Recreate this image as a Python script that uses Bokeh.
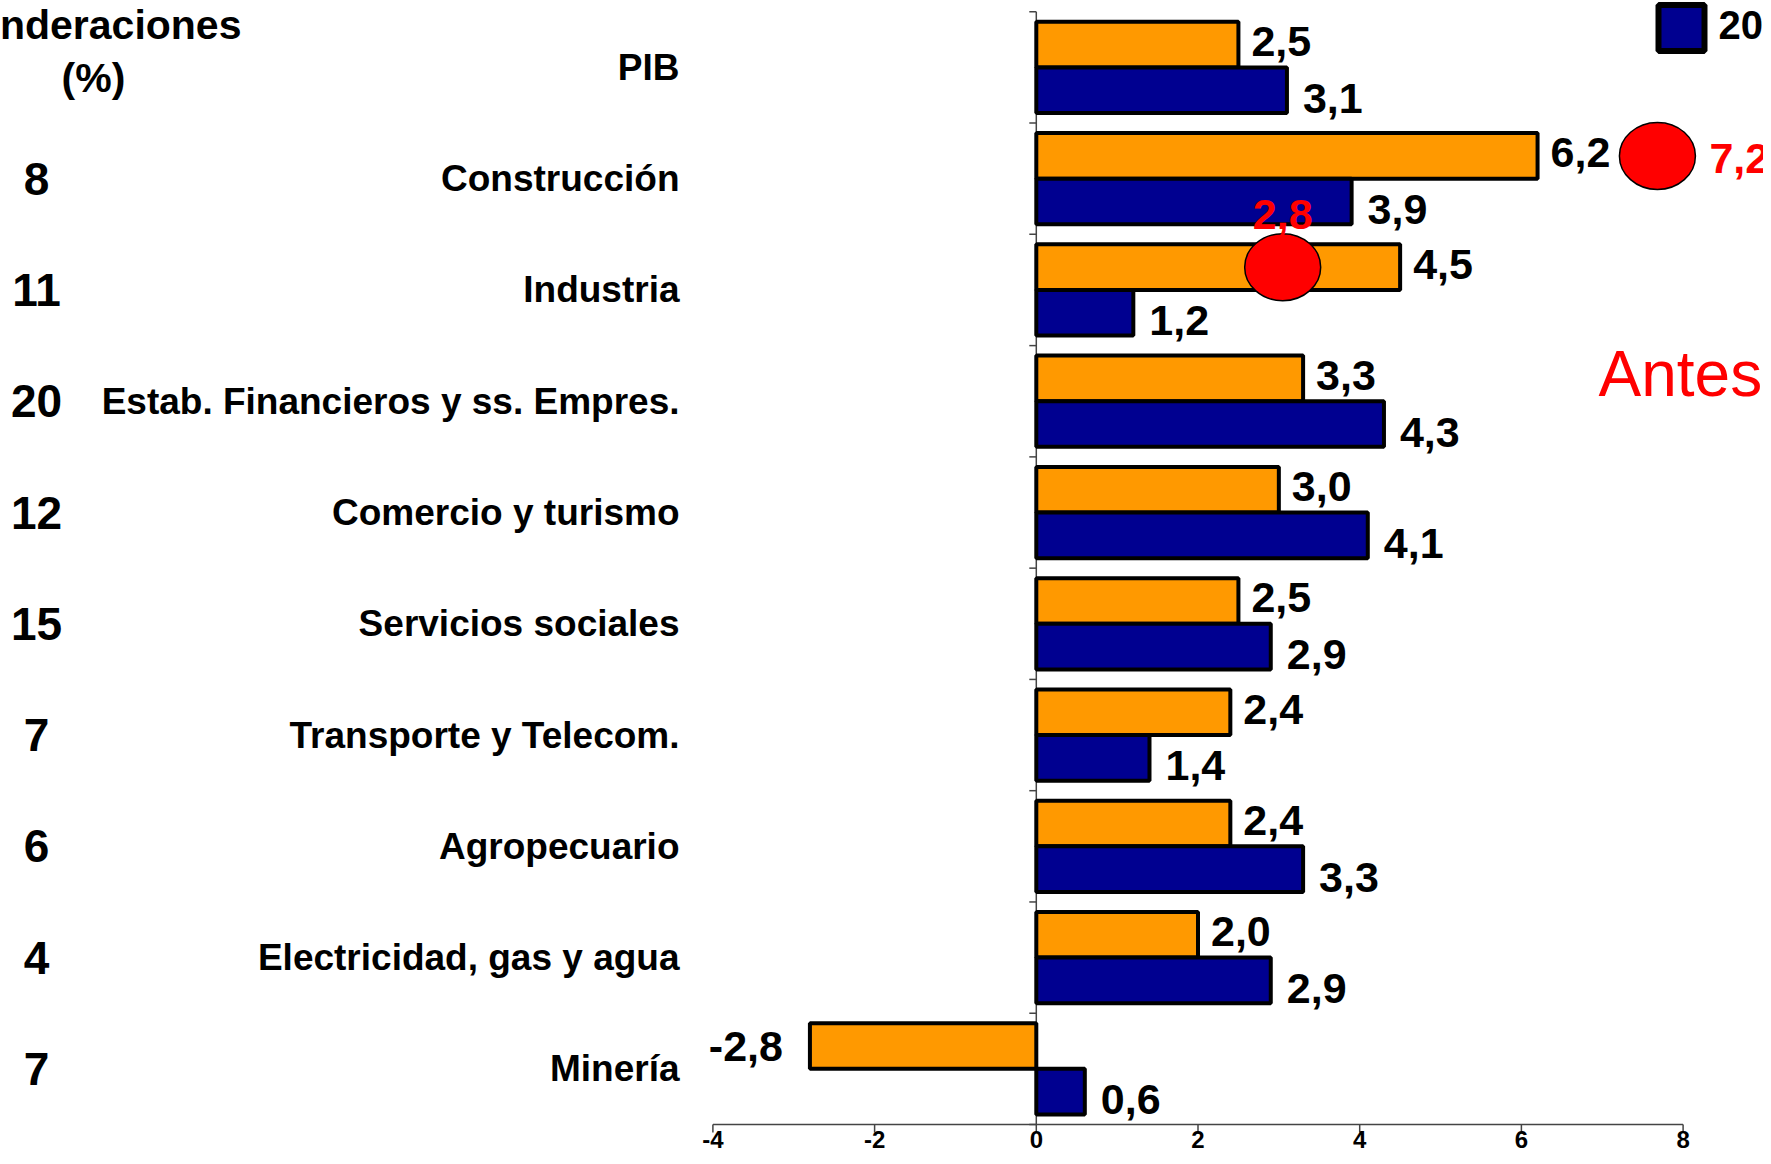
from bokeh.plotting import figure
from bokeh.models import Range1d
from bokeh.core.properties import value
from bokeh.embed import file_html
from bokeh.resources import INLINE

# ---------------- data ----------------
categories = ["PIB", "Construcción", "Industria", "Estab. Financieros y ss. Empres.",
              "Comercio y turismo", "Servicios sociales", "Transporte y Telecom.",
              "Agropecuario", "Electricidad, gas y agua", "Minería"]
ponderaciones = ["", "8", "11", "20", "12", "15", "7", "6", "4", "7"]
serie_naranja = [2.5, 6.2, 4.5, 3.3, 3.0, 2.5, 2.4, 2.4, 2.0, -2.8]
serie_azul = [3.1, 3.9, 1.2, 4.3, 4.1, 2.9, 1.4, 3.3, 2.9, 0.6]
antes_categorias = ["Construcción", "Industria"]
antes_valores = [7.2, 2.8]
x_ticks = [-4, -2, 0, 2, 4, 6, 8]
leyenda_azul = "2011"
titulo_pond = ["Ponderaciones", "(%)"]
texto_antes = "Antes"

# ---------------- layout helpers (canvas pixel -> data) ----------------
W, H = 1763, 1156
PX_X = 80.85      # px per x unit
X0 = 1035.8       # canvas x of value 0
PX_Y = 111.27     # px per category band
Y0 = 11.3         # canvas y of top of first band


def dx(sx):
    return (sx - X0) / PX_X


def dy(sy):
    return -(sy - Y0) / PX_Y


ORANGE = "#FF9900"
NAVY = "#000090"
FONT = value("Liberation Sans")
AXIS_COLOR = "#444444"

n = len(categories)
centers = [-(i + 0.5) for i in range(n)]
bar_h = 0.41
y_or = [c + bar_h / 2 for c in centers]
y_az = [c - bar_h / 2 for c in centers]

p = figure(width=W, height=H, output_backend="svg", toolbar_location=None,
           x_range=Range1d(dx(0), dx(W)), y_range=Range1d(dy(H), dy(0)),
           x_axis_location=None, y_axis_location=None,
           min_border_left=0, min_border_right=0, min_border_top=0,
           min_border_bottom=0)
p.outline_line_color = None
p.xgrid.visible = False
p.ygrid.visible = False
p.background_fill_color = "white"

# y axis line at x = 0 with category ticks
p.segment(x0=[0], y0=[0], x1=[0], y1=[-n], line_color=AXIS_COLOR, line_width=1.5)
bounds = [-k for k in range(n + 1)]
p.segment(x0=[0] * (n + 1), y0=bounds, x1=[-7 / PX_X] * (n + 1), y1=bounds,
          line_color=AXIS_COLOR, line_width=1.5)

# x axis (drawn on the data scale)
p.segment(x0=[x_ticks[0]], y0=[-n], x1=[x_ticks[-1]], y1=[-n],
          line_color=AXIS_COLOR, line_width=1.5)
p.segment(x0=x_ticks, y0=[-n] * len(x_ticks), x1=x_ticks,
          y1=[-n - 8 / PX_Y] * len(x_ticks), line_color=AXIS_COLOR, line_width=1.5)
p.text(x=x_ticks, y=[-n] * len(x_ticks), text=[str(t) for t in x_ticks],
       y_offset=6, text_align="center", text_baseline="top",
       text_font=FONT, text_font_style="bold", text_font_size="24px",
       text_color="black")

# bars
p.hbar(y=y_or, left=0, right=serie_naranja, height=bar_h, fill_color=ORANGE,
       line_color="black", line_width=4)
p.hbar(y=y_az, left=0, right=serie_azul, height=bar_h, fill_color=NAVY,
       line_color="black", line_width=4)


def fmt(v):
    return f"{v:.1f}".replace(".", ",")


# value labels
pos_o = [i for i, v in enumerate(serie_naranja) if v >= 0]
neg_o = [i for i, v in enumerate(serie_naranja) if v < 0]
p.text(x=[serie_naranja[i] for i in pos_o], y=[y_or[i] for i in pos_o],
       text=[fmt(serie_naranja[i]) for i in pos_o], x_offset=13, y_offset=-3,
       text_align="left", text_baseline="middle", text_font=FONT,
       text_font_style="bold", text_font_size="43px", text_color="black")
p.text(x=[serie_naranja[i] for i in neg_o], y=[y_or[i] for i in neg_o],
       text=[fmt(serie_naranja[i]) for i in neg_o], x_offset=-27, y_offset=0,
       text_align="right", text_baseline="middle", text_font=FONT,
       text_font_style="bold", text_font_size="43px", text_color="black")
p.text(x=serie_azul, y=y_az, text=[fmt(v) for v in serie_azul], x_offset=16,
       y_offset=8, text_align="left", text_baseline="middle", text_font=FONT,
       text_font_style="bold", text_font_size="43px", text_color="black")

# category names and weights
p.text(x=[dx(679)] * n, y=centers, text=categories, text_align="right",
       text_baseline="middle", text_font=FONT, text_font_style="bold",
       text_font_size="37px", text_color="black")
p.text(x=[dx(36)] * n, y=centers, text=ponderaciones, text_align="center",
       text_baseline="middle", text_font=FONT, text_font_style="bold",
       text_font_size="46px", text_color="black")
p.text(x=[dx(94), dx(93)], y=[dy(24), dy(77)], text=titulo_pond,
       text_align="center", text_baseline="middle", text_font=FONT,
       text_font_style="bold", text_font_size="41px", text_color="black")

# "Antes" annotations
idx = [categories.index(c) for c in antes_categorias]
nudge_px = [39, 20]
ex = [v + d / PX_X for v, d in zip(antes_valores, nudge_px)]
ey = [y_or[i] for i in idx]
p.ellipse(x=ex, y=ey, width=[76, 76], height=[67, 67], width_units="screen",
          height_units="screen", fill_color="#FF0000", line_color="black",
          line_width=1.5)
p.text(x=[ex[0]], y=[ey[0]], text=[fmt(antes_valores[0])], x_offset=52, y_offset=3,
       text_align="left", text_baseline="middle", text_font=FONT,
       text_font_style="bold", text_font_size="43px", text_color="#FF0000")
p.text(x=[ex[1]], y=[ey[1]], text=[fmt(antes_valores[1])], x_offset=0, y_offset=-53,
       text_align="center", text_baseline="middle", text_font=FONT,
       text_font_style="bold", text_font_size="43px", text_color="#FF0000")
p.text(x=[dx(1598)], y=[dy(373)], text=[texto_antes], text_align="left",
       text_baseline="middle", text_font=FONT, text_font_size="64px",
       text_color="#FF0000")

# legend fragment (top right)
p.rect(x=[dx(1681)], y=[dy(27.5)], width=46, height=46, width_units="screen",
       height_units="screen", fill_color=NAVY, line_color="black", line_width=6)
p.text(x=[dx(1718)], y=[dy(24)], text=[leyenda_azul], text_align="left",
       text_baseline="middle", text_font=FONT, text_font_style="bold",
       text_font_size="40px", text_color="black")

open("out.html", "w").write(file_html(p, INLINE))
